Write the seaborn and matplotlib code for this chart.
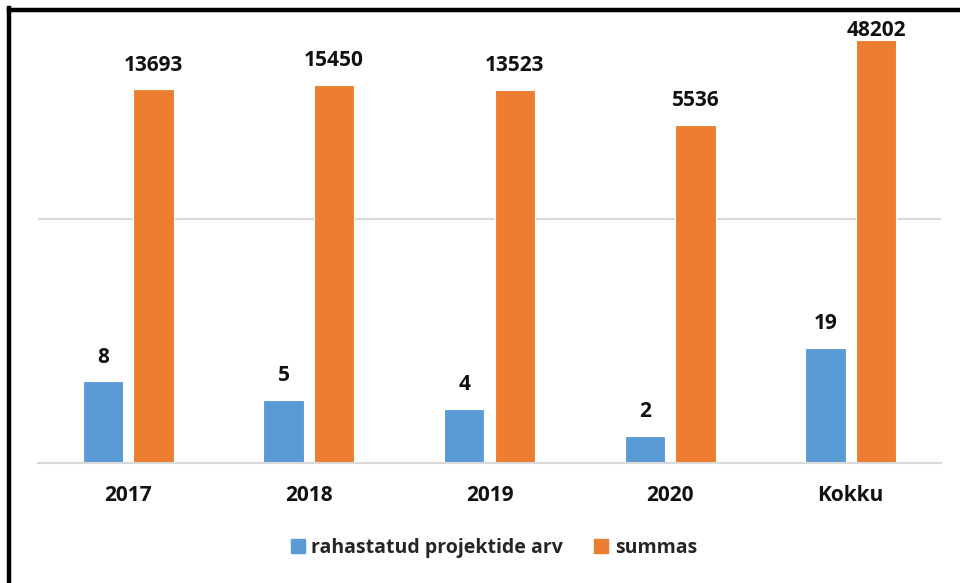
import pandas as pd
import numpy as np
import matplotlib
matplotlib.use("Agg")
import matplotlib.pyplot as plt
from matplotlib.lines import Line2D
import seaborn as sns

# data
categories = ["2017", "2018", "2019", "2020", "Kokku"]
projects = [8, 5, 4, 2, 19]
amounts = [13693, 15450, 13523, 5536, 48202]
series_names = ["rahastatud projektide arv", "summas"]
colors = ["#5B9BD5", "#ED7D31"]

df = pd.DataFrame({
    "category": categories * 2,
    "value": projects + amounts,
    "series": [series_names[0]] * len(categories) + [series_names[1]] * len(categories),
})

sns.set_theme(style="white")
plt.rcParams["font.family"] = ["Open Sans", "DejaVu Sans"]
FS = 15

fig = plt.figure(figsize=(9.6, 5.83), dpi=100)
ax = fig.add_axes([38 / 960, 1 - 463 / 583, (941 - 38) / 960, (463 - 20) / 583])

sns.barplot(data=df, x="category", y="value", hue="series", palette=colors,
            saturation=1, width=0.56, gap=0.2, edgecolor="white", linewidth=0.8,
            ax=ax, legend=False)

ax.set_yscale("log")
ax.set_ylim(1, 10 ** ((463 - 20) / 90.3))
ax.set_xlim(-0.5, len(categories) - 0.5)
ax.set_yticks([500])
ax.set_yticklabels([])
ax.yaxis.set_minor_locator(matplotlib.ticker.NullLocator())
ax.grid(axis="y", color="#D9D9D9", linewidth=1.5)
ax.set_axisbelow(True)
ax.tick_params(axis="both", length=0)
ax.tick_params(axis="x", pad=16, labelsize=FS, labelcolor="#111111")
for lbl in ax.get_xticklabels():
    lbl.set_fontweight("bold")
ax.set_xlabel("")
ax.set_ylabel("")
for side in ["top", "right", "left"]:
    ax.spines[side].set_visible(False)
ax.spines["bottom"].set_color("#D9D9D9")
ax.spines["bottom"].set_linewidth(1.5)

# value labels (the tallest one sits close to its bar, as in the original)
top_value = max(amounts)
for container in ax.containers:
    for bar in container:
        h = bar.get_height()
        off = 3 if h == top_value else 13.5
        ax.annotate(f"{int(round(h))}", (bar.get_x() + bar.get_width() / 2, h),
                    xytext=(0, off), textcoords="offset points",
                    ha="center", va="baseline", fontsize=FS, fontweight="bold",
                    color="#111111", annotation_clip=False)

# legend
handles = [plt.Rectangle((0, 0), 1, 1, color=c) for c in colors]
fig.legend(handles, series_names, loc="center", bbox_to_anchor=(494 / 960, 1 - 548 / 583),
           ncol=2, frameon=False, handlelength=0.7, handleheight=0.7,
           handletextpad=0.35, columnspacing=1.6,
           prop={"weight": "bold", "size": 14})

# thick black frame on the top and left edges
fig.add_artist(Line2D([9 / 960, 9 / 960], [0, 1 - 8 / 583], transform=fig.transFigure,
                      color="black", linewidth=3.2, solid_capstyle="projecting"))
fig.add_artist(Line2D([9 / 960, 1], [1 - 10 / 583, 1 - 10 / 583], transform=fig.transFigure,
                      color="black", linewidth=3.2, solid_capstyle="projecting"))

fig.savefig("out.png", dpi=100)
